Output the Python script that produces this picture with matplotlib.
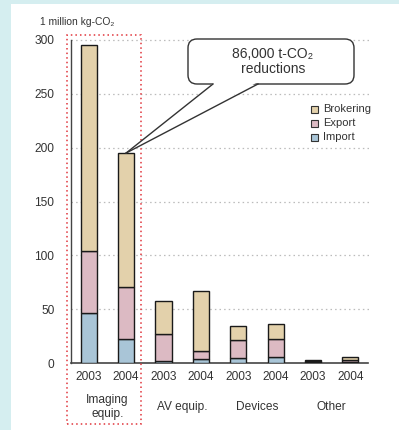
import matplotlib
matplotlib.use("Agg")
import matplotlib.pyplot as plt
from matplotlib.patches import Rectangle, FancyBboxPatch, Polygon
from matplotlib.lines import Line2D
from matplotlib.transforms import Affine2D
import numpy as np

plt.rcParams['font.family'] = ['Liberation Sans', 'DejaVu Sans']

years = ["2003", "2004", "2003", "2004", "2003", "2004", "2003", "2004"]
categories = ["Imaging\nequip.", "AV equip.", "Devices", "Other"]
import_vals = [46.5, 22, 2, 4, 5, 6, 0.5, 0.5]
export_vals = [57.5, 49, 24.5, 7, 16.5, 16.5, 1, 2]
brokering_vals = [191, 124, 31, 55.5, 12.5, 13.5, 1.5, 3]
series_names = ["Brokering", "Export", "Import"]
yticks = [0, 50, 100, 150, 200, 250, 300]
callout_text = "86,000 t-CO\u2082\nreductions"
unit_label = "1 million kg-CO\u2082"

c_imp = "#a9c5d7"
c_exp = "#dcbac3"
c_bro = "#e3d1ab"
txt = "#333333"

W, H = 399, 430
fig = plt.figure(figsize=(W / 100, H / 100), dpi=100)
fig.patch.set_facecolor("#d5eef0")
px = Affine2D().scale(1 / 100) + fig.dpi_scale_trans  # pixel coords from bottom-left

# white panel
fig.patches.append(Rectangle((11, 0), W - 11, H - 4, transform=px, facecolor="white",
                             edgecolor="none", zorder=-10))

ax = fig.add_axes([71 / W, (H - 363) / H, (368 - 71) / W, (363 - 40) / H])
ax.set_facecolor("none")

x = np.arange(len(years))
bw = 0.43
imp = np.array(import_vals)
exp_ = np.array(export_vals)
bro = np.array(brokering_vals)
ek = dict(edgecolor="#1a1a1a", linewidth=1.0, zorder=3)
ax.bar(x, imp, bw, color=c_imp, **ek)
ax.bar(x, exp_, bw, bottom=imp, color=c_exp, **ek)
ax.bar(x, bro, bw, bottom=imp + exp_, color=c_bro, **ek)

ax.set_xlim(-0.473, 7.47)
ax.set_ylim(0, 300)
ax.set_yticks(yticks)
ax.set_yticklabels([str(v) for v in yticks], fontsize=8.6, color=txt)
ax.tick_params(axis="y", length=0, pad=12)
ax.set_xticks(x)
ax.set_xticklabels(years, fontsize=8.6, color=txt)
ax.tick_params(axis="x", length=0, pad=6)
for v in yticks[1:]:
    ax.axhline(v, color="#bbbbbb", linestyle=(0, (1.2, 2.5)), linewidth=0.9, zorder=1,
               xmax=1.01, clip_on=False)
for s in ["top", "right"]:
    ax.spines[s].set_visible(False)
ax.spines["left"].set_color("#444444")
ax.spines["bottom"].set_color("#444444")
ax.spines["left"].set_linewidth(1.0)
ax.spines["bottom"].set_linewidth(1.2)

# category labels
for i, cat in enumerate(categories):
    xc = (x[2 * i] + x[2 * i + 1]) / 2
    xp = ax.transData.transform((xc, 0))[0]
    fig.text(xp / W, (H - 407) / H, cat, ha="center", va="center", fontsize=8.6,
             color=txt, linespacing=1.15)

# unit label
fig.text(40 / W, (H - 22) / H, unit_label, ha="left", va="center", fontsize=7.4, color=txt)

# red dotted box around imaging equipment
fig.patches.append(Rectangle((67, H - 424), 141 - 67, 424 - 35, transform=px,
                             facecolor="none", edgecolor="#e0353c",
                             linestyle=(0, (1, 2)), linewidth=1.1, zorder=5))

# callout
bx0, bx1, by_top, by_bot = 188, 354, 39, 84
box = FancyBboxPatch((bx0, H - by_bot), bx1 - bx0, by_bot - by_top,
                     boxstyle="round,pad=0,rounding_size=9", transform=px,
                     facecolor="white", edgecolor="#333333", linewidth=1.0, zorder=6)
fig.patches.append(box)
tip = ax.transData.transform((x[1], imp[1] + exp_[1] + bro[1]))
tx, ty = tip[0], tip[1]
t1 = (213, H - by_bot)
t2 = (258, H - by_bot)
fig.patches.append(Polygon([(t1[0] + 0.8, t1[1] + 1.2), (t2[0] - 1.5, t2[1] + 1.2), (tx, ty)],
                           closed=True, transform=px, facecolor="white", edgecolor="none",
                           zorder=7))
for t in (t1, t2):
    fig.lines.append(Line2D([t[0], tx], [t[1], ty], transform=px, color="#333333",
                            linewidth=1.0, zorder=8))
fig.text(273 / W, (H - 61.5) / H, callout_text, ha="center", va="center", fontsize=10,
         color=txt, linespacing=1.05, zorder=9)

# legend
cols = [c_bro, c_exp, c_imp]
ly = [109, 123, 137]
for name, c, yy in zip(series_names, cols, ly):
    fig.patches.append(Rectangle((311, H - yy - 3.5), 7, 7, transform=px, facecolor=c,
                                 edgecolor="#333333", linewidth=0.8, zorder=6))
    fig.text(323 / W, (H - yy) / H, name, ha="left", va="center", fontsize=8, color=txt)

fig.savefig("out.png", dpi=100)
